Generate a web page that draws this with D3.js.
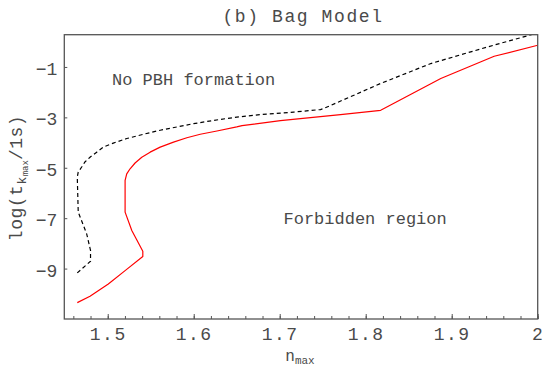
<!DOCTYPE html>
<html>
<head>
<meta charset="utf-8">
<script src="https://cdn.jsdelivr.net/npm/d3@7"></script>
<style>
  html, body { margin: 0; padding: 0; background: #fff; }
  svg { display: block; }
  text { font-family: "Liberation Mono", "Courier New", monospace; fill: #4a4a4a; }
</style>
</head>
<body>
<svg id="chart" width="543" height="367"></svg>
<script>
// Boundary of PBH formation (dashed) and of the forbidden region (red)
const boundaryN = [1.4646, 1.480, 1.480, 1.4755, 1.4657, 1.4646, 1.4657, 1.4697, 1.4735, 1.4794, 1.4872, 1.4949, 1.5065, 1.5221, 1.5415, 1.561, 1.5804, 1.5998, 1.6231, 1.650, 1.6775, 1.7163, 1.7474, 1.751, 1.817, 1.8757, 1.9417, 2.0];
const boundaryLogT = [-9.17, -8.71, -8.28, -7.62, -6.76, -5.37, -5.17, -4.97, -4.77, -4.58, -4.38, -4.18, -4.02, -3.84, -3.67, -3.51, -3.38, -3.25, -3.12, -2.99, -2.89, -2.79, -2.69, -2.65, -1.66, -0.865, -0.205, 0.35];

const forbiddenN = [1.4646, 1.4794, 1.5007, 1.5202, 1.5408, 1.5408, 1.528, 1.5202, 1.5202, 1.5221, 1.526, 1.5318, 1.5396, 1.5493, 1.561, 1.5765, 1.592, 1.6076, 1.627, 1.650, 1.6562, 1.7008, 1.7707, 1.8174, 1.8873, 1.9494, 2.0];
const forbiddenLogT = [-10.35, -10.10, -9.61, -9.08, -8.52, -8.31, -7.49, -6.76, -5.50, -5.24, -5.04, -4.81, -4.58, -4.38, -4.18, -3.98, -3.81, -3.67, -3.54, -3.38, -3.33, -3.13, -2.89, -2.72, -1.46, -0.575, -0.14];

const xMajorTicks = [1.5, 1.6, 1.7, 1.8, 1.9, 2.0];
const xTickLabels = ["1.5", "1.6", "1.7", "1.8", "1.9", "2"];
const xMinorTicks = d3.range(1.46, 2.0001, 0.02);
const yTicks = [-1, -3, -5, -7, -9];
const yTickLabels = ["\u22121", "\u22123", "\u22125", "\u22127", "\u22129"];

const svg = d3.select("#chart");
const plotLeft = 64.3, plotRight = 537.7, plotTop = 34.7, plotBottom = 319;

const x = d3.scaleLinear().domain([1.4495, 2.0]).range([plotLeft, plotRight]);
const y = d3.scaleLinear().domain([-11.0, 0.28]).range([plotBottom, plotTop]);

svg.append("defs").append("clipPath").attr("id", "plotClip")
  .append("rect").attr("x", plotLeft).attr("y", plotTop)
  .attr("width", plotRight - plotLeft).attr("height", plotBottom - plotTop);

const line = d3.line().x(d => x(d[0])).y(d => y(d[1]));
const boundary = boundaryN.map((n, i) => [n, boundaryLogT[i]]);
const forbidden = forbiddenN.map((n, i) => [n, forbiddenLogT[i]]);

const plot = svg.append("g").attr("clip-path", "url(#plotClip)");
plot.append("path").datum(boundary).attr("d", line)
  .attr("fill", "none").attr("stroke", "#000").attr("stroke-width", 1.2)
  .attr("stroke-dasharray", "4,3");
plot.append("path").datum(forbidden).attr("d", line)
  .attr("fill", "none").attr("stroke", "#ff0000").attr("stroke-width", 1.2)
  .attr("stroke-linejoin", "round");

// Frame
svg.append("rect").attr("x", plotLeft).attr("y", plotTop)
  .attr("width", plotRight - plotLeft).attr("height", plotBottom - plotTop)
  .attr("fill", "none").attr("stroke", "#555").attr("stroke-width", 1.3);

// Bottom axis: inward ticks and labels
const xAxis = d3.axisBottom(x).tickValues(xMajorTicks).tickSizeInner(-5).tickSizeOuter(0)
  .tickFormat((d, i) => xTickLabels[i]).tickPadding(8);
const gx = svg.append("g").attr("transform", `translate(0,${plotBottom})`).call(xAxis);
gx.select(".domain").remove();
gx.selectAll(".tick line").attr("stroke", "#555").attr("stroke-width", 1);
gx.selectAll(".tick text").attr("font-size", 18).attr("letter-spacing", 1.5)
  .attr("fill", "#4a4a4a").style("font-family", "Liberation Mono, monospace");

const xMinor = d3.axisBottom(x).tickValues(xMinorTicks).tickSizeInner(-3).tickSizeOuter(0).tickFormat("");
const gxm = svg.append("g").attr("transform", `translate(0,${plotBottom})`).call(xMinor);
gxm.select(".domain").remove();
gxm.selectAll(".tick line").attr("stroke", "#555").attr("stroke-width", 1);

// Left axis
const yAxis = d3.axisLeft(y).tickValues(yTicks).tickSizeInner(-3).tickSizeOuter(0)
  .tickFormat((d, i) => yTickLabels[i]).tickPadding(7);
const gy = svg.append("g").attr("transform", `translate(${plotLeft},0)`).call(yAxis);
gy.select(".domain").remove();
gy.selectAll(".tick line").attr("stroke", "#555").attr("stroke-width", 1);
gy.selectAll(".tick text").attr("font-size", 18).attr("dy", "0.42em")
  .attr("fill", "#4a4a4a").style("font-family", "Liberation Mono, monospace");

// Title
svg.append("text").attr("x", 303).attr("y", 22).attr("text-anchor", "middle")
  .attr("font-size", 18).attr("letter-spacing", 1.6).text("(b) Bag Model");

// Region annotations
svg.append("text").attr("x", 112).attr("y", 85).attr("font-size", 17)
  .text("No PBH formation");
svg.append("text").attr("x", 283.5).attr("y", 224).attr("font-size", 17)
  .text("Forbidden region");

// X axis title
const xt = svg.append("text").attr("x", 300).attr("y", 361).attr("text-anchor", "middle")
  .attr("font-size", 16);
xt.append("tspan").text("n");
xt.append("tspan").attr("font-size", 11).attr("dy", 3).text("max");

// Y axis title
const yt = svg.append("text")
  .attr("transform", `translate(22,178) rotate(-90)`)
  .attr("text-anchor", "middle").attr("font-size", 18).attr("letter-spacing", 0.5);
yt.append("tspan").text("log(t");
yt.append("tspan").attr("font-size", 13).attr("dy", 4).text("k");
yt.append("tspan").attr("font-size", 9).attr("dy", 2).attr("letter-spacing", 0).text("max");
yt.append("tspan").attr("dy", -6).text("/1s)");
</script>
</body>
</html>
